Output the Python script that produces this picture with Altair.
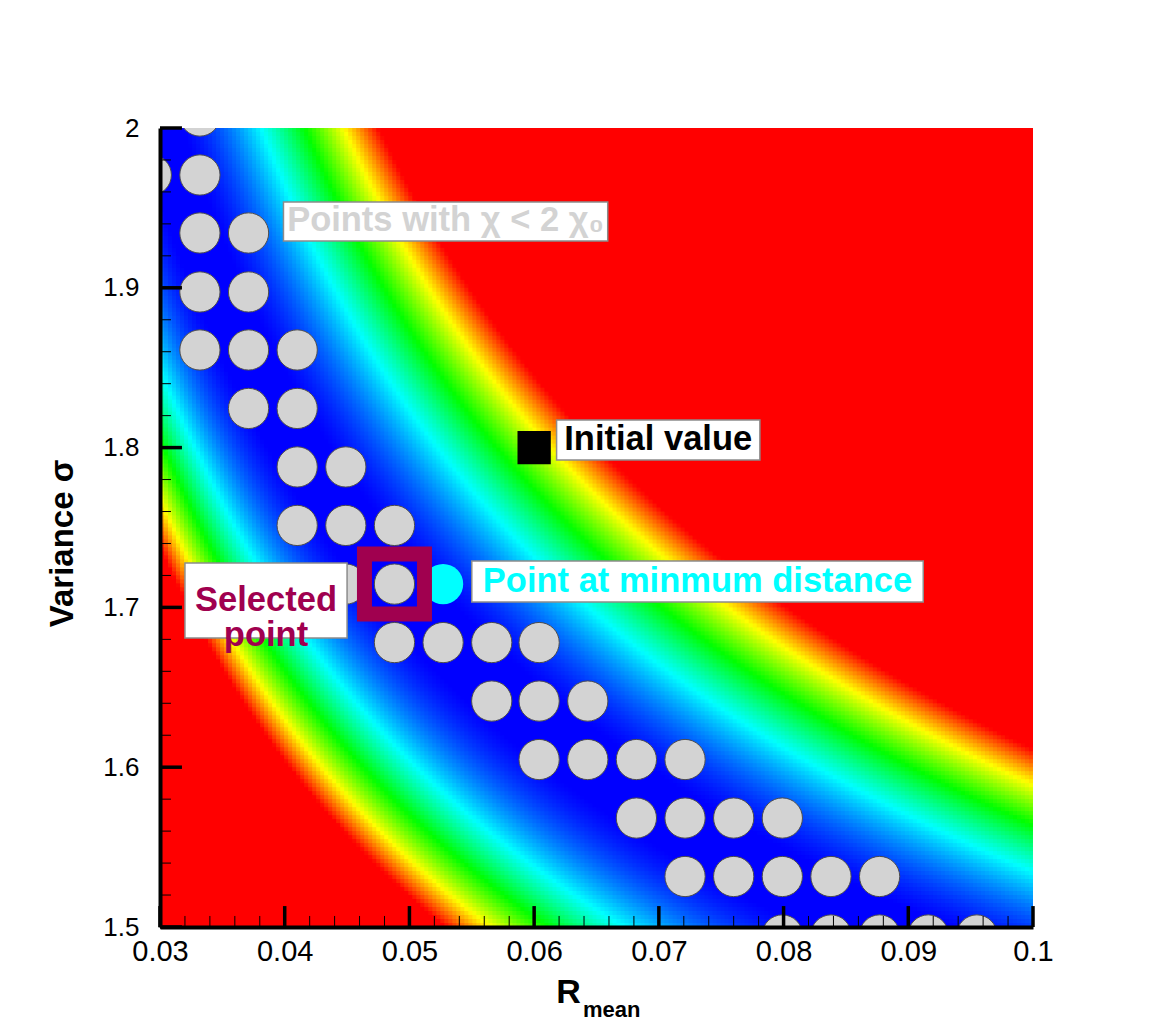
import numpy as np
import pandas as pd
import altair as alt

alt.data_transformers.disable_max_rows()

FONT = "Liberation Sans"

# ---------------- axes ----------------
X_TICKS = [0.03, 0.04, 0.05, 0.06, 0.07, 0.08, 0.09, 0.1]
Y_TICKS = [1.5, 1.6, 1.7, 1.8, 1.9, 2.0]
X_MINOR = [round(0.03 + 0.002 * i, 4) for i in range(36) if i % 5 != 0]
Y_MINOR = [round(1.5 + 0.02 * i, 3) for i in range(26) if i % 5 != 0]

# ---------------- background chi field ----------------
# centre of the minimum valley (R, sigma)
VALLEY_SIGMA = [1.499, 1.715, 1.9725]
VALLEY_R = [0.0878, 0.0488, 0.031]
# widening of the bands on the low-R side of the valley, read at two sigma values
LOWER_SIGMA = [1.5, 1.79]
LOWER_SCALE = [0.92, 1.09]
# chi level (squared log distance to the valley) of each colour
LEVELS = [0.004, 0.059, 0.109, 0.162, 0.215]
LEVEL_COLORS = ["#0000ff", "#00ffff", "#00ff00", "#ffff00", "#ff0000"]

# ---------------- points with chi < 2 chi0 ----------------
ROW_SIGMA = [2.0075, 1.9706, 1.9343, 1.8974, 1.8611, 1.8245, 1.7879, 1.7513,
             1.7146, 1.678, 1.6414, 1.6048, 1.5682, 1.5316, 1.495]
ROW_R = [
    [0.0332],
    [0.0293, 0.0332],
    [0.0332, 0.0371],
    [0.0332, 0.0371],
    [0.0332, 0.0371, 0.0410],
    [0.0371, 0.0410],
    [0.0410, 0.0449],
    [0.0410, 0.0449, 0.0488],
    [0.0410, 0.0449, 0.0488],
    [0.0488, 0.0527, 0.0566, 0.0604],
    [0.0566, 0.0604, 0.0643],
    [0.0604, 0.0643, 0.0682, 0.0721],
    [0.0682, 0.0721, 0.0760, 0.0799],
    [0.0721, 0.0760, 0.0799, 0.0838, 0.0877],
    [0.0799, 0.0838, 0.0877, 0.0916, 0.0955],
]

MIN_DIST_POINT = (0.0527, 1.7146)
SELECTED_POINT = (0.0488, 1.7146)
INITIAL_VALUE = (0.060, 1.800)

# annotation boxes
LABELS = ["Points with χ < 2 χ₀", "Initial value", "Point at minmum distance", "Selected\npoint"]
LABEL_COLORS = ["#d3d3d3", "#000000", "#00ffff", "#a0004f"]
BOX_R0 = [0.0399, 0.0618, 0.0550, 0.0320]
BOX_R1 = [0.0659, 0.0781, 0.0912, 0.0450]
BOX_S0 = [1.9293, 1.7922, 1.7034, 1.6808]
BOX_S1 = [1.9537, 1.8173, 1.7290, 1.7278]

# ---------------- build tables ----------------
coef = np.polyfit(np.log(VALLEY_SIGMA), np.log(VALLEY_R), 2)
NX, NY = 218, 200
r_edges = np.linspace(0.03, 0.1, NX + 1)
s_edges = np.linspace(1.5, 2.0, NY + 1)
dr = r_edges[1] - r_edges[0]
dsg = s_edges[1] - s_edges[0]
rc = 0.5 * (r_edges[:-1] + r_edges[1:])
sc = 0.5 * (s_edges[:-1] + s_edges[1:])
RR, SS = np.meshgrid(rc, sc)
d = np.log(RR) - np.polyval(coef, np.log(SS))
lower = np.interp(SS, LOWER_SIGMA, LOWER_SCALE)
d = np.where(d < 0, d * lower, d)
chi = d ** 2
R0, S0 = np.meshgrid(r_edges[:-1], s_edges[:-1])
heat = pd.DataFrame({
    "R": np.round(R0.ravel(), 6),
    "R2": np.round(R0.ravel() + dr * 1.3, 6),
    "S": np.round(S0.ravel(), 5),
    "S2": np.round(S0.ravel() + dsg * 1.3, 5),
    "chi": np.round(chi.ravel(), 4),
})

pts = pd.DataFrame([(r, s) for s, rs in zip(ROW_SIGMA, ROW_R) for r in rs], columns=["R", "S"])
cyan = pd.DataFrame({"R": [MIN_DIST_POINT[0]], "S": [MIN_DIST_POINT[1]]})
sel = pd.DataFrame({"R": [SELECTED_POINT[0]], "S": [SELECTED_POINT[1]]})
ini = pd.DataFrame({"R": [INITIAL_VALUE[0]], "S": [INITIAL_VALUE[1]]})
boxes = pd.DataFrame({"R": BOX_R0, "R2": BOX_R1, "S": BOX_S0, "S2": BOX_S1,
                      "label": LABELS, "color": LABEL_COLORS})
boxes["Rc"] = (boxes["R"] + boxes["R2"]) / 2
boxes["Sc"] = (boxes["S"] + boxes["S2"]) / 2

XMAJ_LEN, XMIN_LEN = 0.0131, 0.0069     # in sigma units (about 21 and 11 px)
YMAJ_LEN, YMIN_LEN = 0.00176, 0.00088   # in R units
xt = pd.DataFrame({"R": X_TICKS, "S": 1.5, "S2": 1.5 + XMAJ_LEN})
xm = pd.DataFrame({"R": X_MINOR, "S": 1.5, "S2": 1.5 + XMIN_LEN})
yt = pd.DataFrame({"R": 0.03, "R2": 0.03 + YMAJ_LEN, "S": Y_TICKS})
ym = pd.DataFrame({"R": 0.03, "R2": 0.03 + YMIN_LEN, "S": Y_MINOR})

# ---------------- scales / axes ----------------
xs = alt.Scale(domain=[0.03, 0.1], nice=False, zero=False)
ys = alt.Scale(domain=[1.5, 2.0], nice=False, zero=False)
x_axis = alt.Axis(values=X_TICKS, format=".2~f", title=None, grid=False, ticks=False, tickSize=0,
                  labelFont=FONT, labelFontSize=29, labelColor="black", labelPadding=10,
                  labelFlush=False, labelOverlap=False, domainColor="black", domainWidth=4, zindex=2)
y_axis = alt.Axis(values=Y_TICKS, format=".1~f", title=None, grid=False, ticks=False, tickSize=0,
                  labelFont=FONT, labelFontSize=26, labelColor="black", labelPadding=21,
                  labelFlush=False, labelOverlap=False, domainColor="black", domainWidth=4, zindex=2)


def X(f="R"):
    return alt.X(f + ":Q", scale=xs, axis=x_axis)


def Y(f="S"):
    return alt.Y(f + ":Q", scale=ys, axis=y_axis)


heatmap = alt.Chart(heat).mark_rect(clip=True, strokeWidth=0).encode(
    x=X(), x2="R2:Q", y=Y(), y2="S2:Q",
    color=alt.Color("chi:Q", scale=alt.Scale(domain=LEVELS, range=LEVEL_COLORS, clamp=True,
                                             interpolate="rgb"), legend=None),
)

circles = alt.Chart(pts).mark_circle(size=1620, color="#d3d3d3", stroke="#4d4d4d", strokeWidth=1,
                                     opacity=1, clip=True).encode(x=X(), y=Y())
cyan_pt = alt.Chart(cyan).mark_circle(size=1620, color="#00ffff", opacity=1).encode(x=X(), y=Y())
sel_sq = alt.Chart(sel).mark_square(size=3600, filled=False, color="#a0004f", strokeWidth=15,
                                    opacity=1).encode(x=X(), y=Y())
ini_sq = alt.Chart(ini).mark_square(size=1110, color="black", opacity=1).encode(x=X(), y=Y())

box_rect = alt.Chart(boxes).mark_rect(fill="white", stroke="#8c8c8c", strokeWidth=1.5).encode(
    x=X(), x2="R2:Q", y=Y(), y2="S2:Q")
box_text = alt.Chart(boxes).mark_text(font=FONT, fontSize=34.5, fontWeight="bold", align="center",
                                      baseline="middle", lineBreak="\n", lineHeight=35).encode(
    x=X("Rc"), y=Y("Sc"), text="label:N", color=alt.Color("color:N", scale=None))

xmaj = alt.Chart(xt).mark_rule(color="black", strokeWidth=3.5).encode(x=X(), y=Y(), y2="S2:Q")
xmin = alt.Chart(xm).mark_rule(color="black", strokeWidth=1).encode(x=X(), y=Y(), y2="S2:Q")
ymaj = alt.Chart(yt).mark_rule(color="black", strokeWidth=3.5).encode(x=X(), x2="R2:Q", y=Y())
ymin = alt.Chart(ym).mark_rule(color="black", strokeWidth=1).encode(x=X(), x2="R2:Q", y=Y())

# axis titles
xt_R = pd.DataFrame({"R": [0.06276], "t": ["R"]})
xt_sub = pd.DataFrame({"R": [0.06392], "t": ["mean"]})
yt_title = pd.DataFrame({"S": [1.74], "t": ["Variance σ"]})
title_R = alt.Chart(xt_R).mark_text(font=FONT, fontSize=34, fontWeight="bold", align="center",
                                    baseline="alphabetic", color="black").encode(
    x=X(), y=alt.value(875), text="t:N")
title_sub = alt.Chart(xt_sub).mark_text(font=FONT, fontSize=22, fontWeight="bold", align="left",
                                        baseline="alphabetic", color="black").encode(
    x=X(), y=alt.value(889), text="t:N")
title_y = alt.Chart(yt_title).mark_text(font=FONT, fontSize=33, fontWeight="bold", align="center",
                                        baseline="alphabetic", angle=270, color="black").encode(
    x=alt.value(-87), y=Y(), text="t:N")

chart = alt.layer(
    heatmap, circles, cyan_pt, sel_sq, ini_sq, box_rect, box_text,
    xmin, xmaj, ymin, ymaj, title_R, title_sub, title_y,
).properties(
    width=873, height=799,
    autosize=alt.AutoSizeParams(type="none"),
    padding={"left": 152, "top": 120, "right": 110, "bottom": 100},
    background="white",
).configure_view(stroke=None)

chart.save("out.html", embed_options={"renderer": "svg", "actions": False})
